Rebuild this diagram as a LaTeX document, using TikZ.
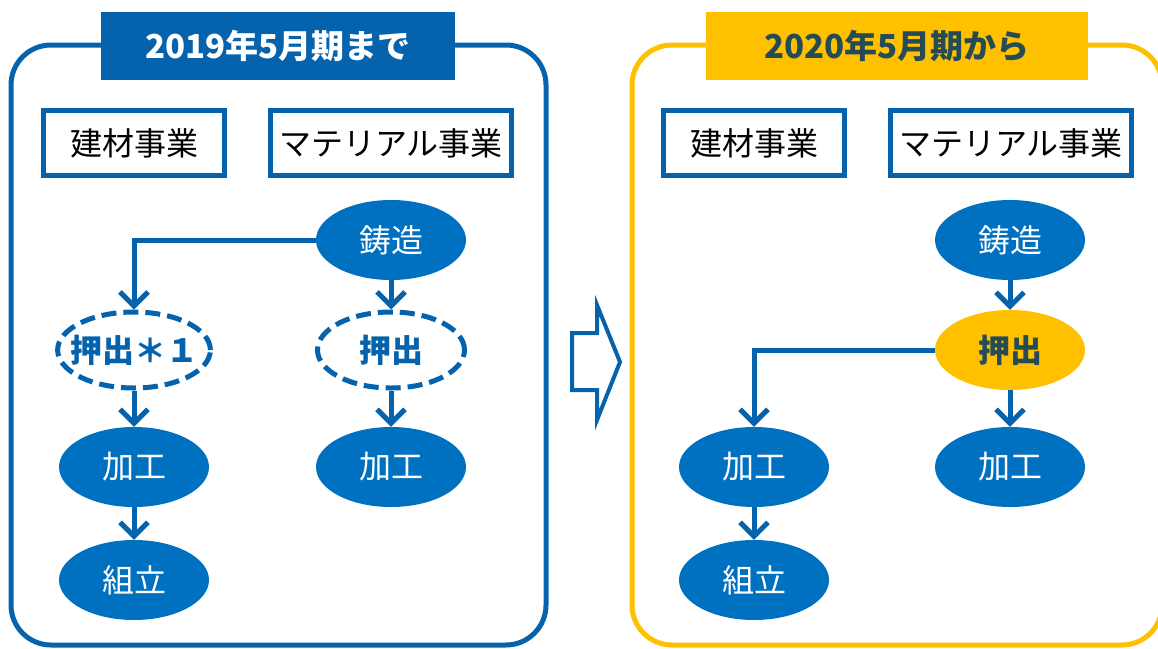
\documentclass[tikz,border=0pt]{standalone}
\usepackage{fontspec}
\setmainfont{Noto Sans CJK JP}
\usetikzlibrary{shapes.geometric,arrows.meta}
\definecolor{blueline}{HTML}{0563AD}
\definecolor{bluefill}{HTML}{0070C0}
\definecolor{yellowline}{HTML}{FFC000}
\definecolor{darktext}{HTML}{254B55}
\tikzset{
	panel/.style={line width=5pt, rounded corners=40pt},
	titlebox/.style={minimum height=68pt, inner sep=0pt, font=\fontsize{33}{33}\selectfont\bfseries},
	bizbox/.style={draw=blueline, line width=5pt, fill=white, minimum height=65pt, inner sep=0pt, font=\fontsize{32}{32}\selectfont},
	proc/.style={ellipse, fill=bluefill, text=white, minimum width=150pt, minimum height=80pt, inner sep=0pt, font=\fontsize{32}{32}\selectfont},
	dproc/.style={ellipse, draw=blueline, fill=white, line width=5pt, dash pattern=on 15pt off 7pt, text=blueline, minimum width=147pt, minimum height=76pt, inner sep=0pt, font=\fontsize{32}{32}\selectfont\bfseries},
	flow/.style={draw=blueline, line width=5pt, -{Straight Barb[length=14pt,width=28pt]}},
}
\begin{document}
\begin{tikzpicture}[x=1pt, y=-1pt]
			%%%%% START %%%%%
			\useasboundingbox (0,0) rectangle (1158,648);
			
			% before
			\draw[panel, draw=blueline] (11, 45) rectangle (546, 645);
			\node[titlebox, fill=blueline, text=white, minimum width=354pt] (title1) at (278, 46) {2019年5月期まで};
			\node[bizbox, minimum width=181pt] (build1) at (134, 143) {建材事業};
			\node[bizbox, minimum width=241pt] (mat1) at (391, 143) {マテリアル事業};
			
			\node[proc] (cast1) at (391, 240) {鋳造};
			\node[dproc, inner xsep=-10pt] (extA1) at (134, 350) {押出＊１};
			\node[dproc] (extB1) at (391, 350) {押出};
			\node[proc] (procA1) at (134, 467) {加工};
			\node[proc] (procB1) at (391, 467) {加工};
			\node[proc] (asm1) at (134, 580) {組立};
			
			\draw[flow] (cast1.west) -| (extA1.north);
			\draw[flow] (cast1.south) -- (extB1.north);
			\draw[flow] (extA1.south) -- (procA1.north);
			\draw[flow] (extB1.south) -- (procB1.north);
			\draw[flow] (procA1.south) -- (asm1.north);
			
			% change
			\draw[line width=4pt, draw=blueline, fill=white] (572, 333) -- (597, 333) -- (597, 305) -- (620, 362) -- (597, 420) -- (597, 390) -- (572, 390) -- cycle;
			
			% after
			\draw[panel, draw=yellowline] (632, 45) rectangle (1162, 645);
			\node[titlebox, fill=yellowline, text=darktext, minimum width=382pt] (title2) at (897, 46) {2020年5月期から};
			\node[bizbox, minimum width=181pt] (build2) at (754, 143) {建材事業};
			\node[bizbox, minimum width=241pt] (mat2) at (1011, 143) {マテリアル事業};
			
			\node[proc] (cast2) at (1010, 240) {鋳造};
			\node[proc, fill=yellowline, text=darktext, font=\fontsize{32}{32}\selectfont\bfseries] (ext2) at (1010, 350) {押出};
			\node[proc] (procA2) at (754, 467) {加工};
			\node[proc] (procB2) at (1010, 467) {加工};
			\node[proc] (asm2) at (754, 580) {組立};
			
			\draw[flow] (cast2.south) -- (ext2.north);
			\draw[flow] (ext2.west) -| (procA2.north);
			\draw[flow] (ext2.south) -- (procB2.north);
			\draw[flow] (procA2.south) -- (asm2.north);
			
			%%%%% END %%%%%
\end{tikzpicture}
\end{document}
